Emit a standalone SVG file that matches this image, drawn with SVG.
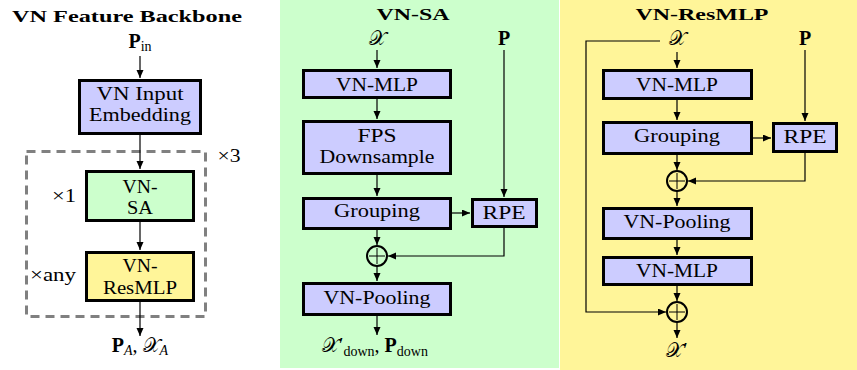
<svg xmlns="http://www.w3.org/2000/svg" width="857" height="370" viewBox="0 0 857 370" font-family="Liberation Serif, serif">
<style>
  .title{font-weight:bold;font-size:17px;text-anchor:middle;}
  .lbl{font-size:18px;text-anchor:middle;}
  .math{font-size:20px;text-anchor:middle;}
  .sub{font-size:14px;}
  .box{stroke:#000;stroke-width:3;}
  .blue{fill:#ccccff;}
  .green{fill:#ccffcc;}
  .yellow{fill:#fff599;}
  .ln{fill:none;stroke:#000;stroke-width:1.2;}
  .arr{marker-end:url(#ah);}
  .circ{fill:none;stroke:#000;stroke-width:2;}
  .plus{stroke:#000;stroke-width:1;}
</style>
<defs>
  <marker id="ah" markerUnits="userSpaceOnUse" markerWidth="9" markerHeight="8" refX="8" refY="3.5" orient="auto">
    <path d="M0,0 L8,3.5 L0,7 z" fill="#000"/>
  </marker>
</defs>

<!-- panel backgrounds -->
<rect x="280" y="0" width="279" height="368" fill="#ccffcc"/>
<rect x="560" y="0" width="297" height="370" fill="#fff599"/>

<!-- ===== Left panel ===== -->
<text class="title" x="127" y="22" textLength="230" lengthAdjust="spacingAndGlyphs">VN Feature Backbone</text>
<text class="math" x="140" y="48"><tspan font-weight="bold">P</tspan><tspan class="sub" dy="3">in</tspan></text>

<g id="backbone-loop">
  <rect x="26.5" y="151.5" width="179" height="165" fill="none" stroke="#808080" stroke-width="3" stroke-dasharray="9,6"/>
  <text class="lbl" x="229" y="162" textLength="23" lengthAdjust="spacingAndGlyphs">×3</text>
</g>
<g id="vn-input-embedding">
  <rect class="box blue" x="79.5" y="80.5" width="121" height="53"/>
  <text class="lbl" x="140" y="100" textLength="87" lengthAdjust="spacingAndGlyphs">VN Input</text>
  <text class="lbl" x="140" y="121" textLength="102" lengthAdjust="spacingAndGlyphs">Embedding</text>
</g>
<g id="vn-sa-block">
  <rect class="box green" x="86.5" y="171.5" width="107" height="49"/>
  <text class="lbl" x="140" y="193" textLength="35" lengthAdjust="spacingAndGlyphs">VN-</text>
  <text class="lbl" x="140" y="214" textLength="26" lengthAdjust="spacingAndGlyphs">SA</text>
  <text class="lbl" x="64" y="202" textLength="24" lengthAdjust="spacingAndGlyphs">×1</text>
</g>
<g id="vn-resmlp-block">
  <rect class="box yellow" x="86.5" y="252.5" width="107" height="48"/>
  <text class="lbl" x="140" y="272" textLength="35" lengthAdjust="spacingAndGlyphs">VN-</text>
  <text class="lbl" x="140" y="294" textLength="74" lengthAdjust="spacingAndGlyphs">ResMLP</text>
  <text class="lbl" x="53" y="281" textLength="46" lengthAdjust="spacingAndGlyphs">×any</text>
</g>
<text class="math" x="140" y="352"><tspan font-weight="bold">P</tspan><tspan class="sub" dy="3" font-style="italic">A</tspan><tspan dy="-3">, </tspan><tspan>𝒳</tspan><tspan class="sub" dy="3" font-style="italic">A</tspan></text>

<!-- ===== Middle panel (VN-SA) ===== -->
<text class="title" x="413" y="20" textLength="73" lengthAdjust="spacingAndGlyphs">VN-SA</text>
<text class="math" x="377" y="45">𝒳</text>
<text class="math" x="504" y="45" font-weight="bold">P</text>

<g id="sa-vn-mlp">
  <rect class="box blue" x="303.5" y="70.5" width="147" height="27"/>
  <text class="lbl" x="377" y="91" textLength="82" lengthAdjust="spacingAndGlyphs">VN-MLP</text>
</g>
<g id="sa-fps">
  <rect class="box blue" x="303.5" y="121.5" width="147" height="52"/>
  <text class="lbl" x="377" y="142" textLength="39" lengthAdjust="spacingAndGlyphs">FPS</text>
  <text class="lbl" x="377" y="163" textLength="115" lengthAdjust="spacingAndGlyphs">Downsample</text>
</g>
<g id="sa-grouping">
  <rect class="box blue" x="303.5" y="198.5" width="147" height="30"/>
  <text class="lbl" x="377" y="217" textLength="86" lengthAdjust="spacingAndGlyphs">Grouping</text>
</g>
<g id="sa-rpe">
  <rect class="box blue" x="472.5" y="199.5" width="64" height="27"/>
  <text class="lbl" x="504" y="219" textLength="43" lengthAdjust="spacingAndGlyphs">RPE</text>
</g>
<g id="sa-add">
  <circle class="circ" cx="377" cy="256" r="10"/>
  <line class="plus" x1="369" y1="256" x2="385" y2="256"/>
  <line class="plus" x1="377" y1="248" x2="377" y2="264"/>
</g>
<g id="sa-pooling">
  <rect class="box blue" x="303.5" y="283.5" width="147" height="31"/>
  <text class="lbl" x="377" y="304" textLength="107" lengthAdjust="spacingAndGlyphs">VN-Pooling</text>
</g>
<text class="math" x="375" y="352"><tspan>𝒳′</tspan><tspan class="sub" dy="4">down</tspan><tspan dy="-4">, </tspan><tspan font-weight="bold">P</tspan><tspan class="sub" dy="4">down</tspan></text>

<!-- ===== Right panel (VN-ResMLP) ===== -->
<text class="title" x="702" y="20" textLength="133" lengthAdjust="spacingAndGlyphs">VN-ResMLP</text>
<text class="math" x="677" y="45">𝒳</text>
<text class="math" x="805" y="45" font-weight="bold">P</text>

<g id="res-vn-mlp-1">
  <rect class="box blue" x="603.5" y="70.5" width="148" height="28"/>
  <text class="lbl" x="677" y="91" textLength="82" lengthAdjust="spacingAndGlyphs">VN-MLP</text>
</g>
<g id="res-grouping">
  <rect class="box blue" x="603.5" y="122.5" width="148" height="31"/>
  <text class="lbl" x="677" y="142" textLength="86" lengthAdjust="spacingAndGlyphs">Grouping</text>
</g>
<g id="res-rpe">
  <rect class="box blue" x="773.5" y="123.5" width="63" height="28"/>
  <text class="lbl" x="805" y="143" textLength="43" lengthAdjust="spacingAndGlyphs">RPE</text>
</g>
<g id="res-add-1">
  <circle class="circ" cx="677" cy="181" r="10"/>
  <line class="plus" x1="669" y1="181" x2="685" y2="181"/>
  <line class="plus" x1="677" y1="173" x2="677" y2="189"/>
</g>
<g id="res-pooling">
  <rect class="box blue" x="603.5" y="208.5" width="148" height="30"/>
  <text class="lbl" x="677" y="228" textLength="107" lengthAdjust="spacingAndGlyphs">VN-Pooling</text>
</g>
<g id="res-vn-mlp-2">
  <rect class="box blue" x="603.5" y="257.5" width="148" height="27"/>
  <text class="lbl" x="677" y="277" textLength="82" lengthAdjust="spacingAndGlyphs">VN-MLP</text>
</g>
<g id="res-add-2">
  <circle class="circ" cx="677" cy="312" r="10"/>
  <line class="plus" x1="669" y1="312" x2="685" y2="312"/>
  <line class="plus" x1="677" y1="304" x2="677" y2="320"/>
</g>
<text class="math" x="677" y="357">𝒳′</text>

<!-- ===== Connectors ===== -->
<g id="connectors">
  <line class="ln arr" x1="140" y1="56" x2="140" y2="78"/>
  <line class="ln arr" x1="140" y1="135" x2="140" y2="169"/>
  <line class="ln arr" x1="140" y1="222" x2="140" y2="250"/>
  <line class="ln arr" x1="140" y1="302" x2="140" y2="336"/>
  <line class="ln arr" x1="377" y1="50" x2="377" y2="68"/>
  <line class="ln arr" x1="377" y1="99" x2="377" y2="119"/>
  <line class="ln arr" x1="377" y1="175" x2="377" y2="196"/>
  <line class="ln arr" x1="504" y1="50" x2="504" y2="197"/>
  <line class="ln arr" x1="452" y1="213" x2="470" y2="213"/>
  <line class="ln arr" x1="377" y1="230" x2="377" y2="245"/>
  <path class="ln arr" d="M504,228 V256 H388"/>
  <line class="ln arr" x1="377" y1="266" x2="377" y2="281"/>
  <line class="ln arr" x1="377" y1="316" x2="377" y2="335"/>
  <line class="ln arr" x1="677" y1="52" x2="677" y2="68"/>
  <line class="ln arr" x1="677" y1="100" x2="677" y2="120"/>
  <line class="ln arr" x1="805" y1="50" x2="805" y2="121"/>
  <line class="ln arr" x1="753" y1="138" x2="771" y2="138"/>
  <line class="ln arr" x1="677" y1="155" x2="677" y2="170"/>
  <path class="ln arr" d="M805,153 V181 H688"/>
  <line class="ln arr" x1="677" y1="191" x2="677" y2="206"/>
  <line class="ln arr" x1="677" y1="240" x2="677" y2="255"/>
  <line class="ln arr" x1="677" y1="286" x2="677" y2="301"/>
  <path class="ln arr" d="M660,41 H586 V312 H666"/>
  <line class="ln arr" x1="677" y1="322" x2="677" y2="338"/>
</g>
</svg>
